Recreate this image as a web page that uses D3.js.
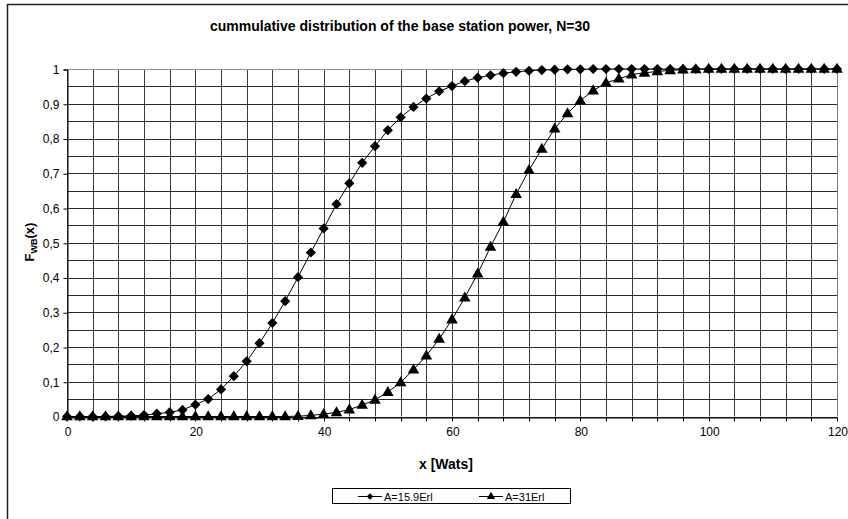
<!DOCTYPE html>
<html>
<head>
<meta charset="utf-8">
<script src="https://cdn.jsdelivr.net/npm/d3@7"></script>
<style>
  html, body { margin: 0; padding: 0; background: #fff; }
  svg { display: block; font-family: Arial, "Liberation Sans", sans-serif; }
</style>
</head>
<body>
<svg id="chart" width="848" height="519"></svg>
<script>
// ---- data ----
const xValues = [0,2,4,6,8,10,12,14,16,18,20,22,24,26,28,30,32,34,36,38,40,42,44,46,48,50,52,54,56,58,60,62,64,66,68,70,72,74,76,78,80,82,84,86,88,90,92,94,96,98,100,102,104,106,108,110,112,114,116,118,120];
const seriesA159 = [0,0,0,0,0.001,0.002,0.004,0.008,0.012,0.019,0.034,0.05,0.078,0.116,0.159,0.211,0.269,0.332,0.401,0.472,0.541,0.611,0.671,0.73,0.778,0.824,0.861,0.891,0.915,0.936,0.951,0.965,0.975,0.982,0.988,0.992,0.995,0.997,0.998,0.999,0.999,1,1,1,1,1,1,1,1,1,1,1,1,1,1,1,1,1,1,1,1];
const seriesA31 = [0,0,0,0,0,0,0,0,0,0,0,0,0,0,0,0,0,0,0.001,0.003,0.007,0.012,0.02,0.033,0.048,0.07,0.098,0.135,0.175,0.223,0.279,0.342,0.411,0.488,0.56,0.64,0.709,0.77,0.828,0.872,0.909,0.938,0.96,0.972,0.984,0.989,0.993,0.996,0.998,0.999,1,1,1,1,1,1,1,1,1,1,1];
const seriesNames = ["A=15.9Erl", "A=31Erl"];
const xTickLabels = [0,20,40,60,80,100,120];
const yTickLabels = [0,0.1,0.2,0.3,0.4,0.5,0.6,0.7,0.8,0.9,1];
const xGrid = [0,4,8,12,16,20,24,28,32,36,40,44,48,52,56,60,64,68,72,76,80,84,88,92,96,100,104,108,112,116,120];
const yGrid = [0,0.05,0.1,0.15,0.2,0.25,0.3,0.35,0.4,0.45,0.5,0.55,0.6,0.65,0.7,0.75,0.8,0.85,0.9,0.95,1];
const titleText = "cummulative distribution of the base station power, N=30";
const xLabel = "x [Wats]";

// ---- layout ----
const svg = d3.select("#chart");
const mLeft = 67, mRight = 837, mTop = 69, mBottom = 416.5;
const x = d3.scaleLinear().domain([0,120]).range([mLeft, mRight]);
const y = d3.scaleLinear().domain([0,1]).range([mBottom, mTop]);
const FONT = "Arial, 'Liberation Sans', sans-serif";

// outer border
svg.append("rect").attr("x", 7.5).attr("y", 4.5).attr("width", 900).attr("height", 600)
  .attr("fill", "#fff").attr("stroke", "#222").attr("stroke-width", 1.5);

// title
svg.append("text").attr("x", 400).attr("y", 31).attr("text-anchor", "middle")
  .attr("font-size", 14).attr("font-weight", "bold").text(titleText);

// grid
const g = svg.append("g");
g.selectAll(".vg").data(xGrid).join("line")
  .attr("x1", d => Math.round(x(d)) + 0.5).attr("x2", d => Math.round(x(d)) + 0.5)
  .attr("y1", y(1)).attr("y2", y(0))
  .attr("stroke", d => (d === 120 ? "#808080" : "#3a3a3a")).attr("stroke-width", 1);
g.selectAll(".hg").data(yGrid).join("line")
  .attr("y1", d => Math.round(y(d)) + 0.5).attr("y2", d => Math.round(y(d)) + 0.5)
  .attr("x1", x(0)).attr("x2", x(120))
  .attr("stroke", d => (d === 1 ? "#909090" : "#2a2a2a")).attr("stroke-width", 1);

// axes
const yAxis = d3.axisLeft(y).tickValues(yTickLabels).tickSize(4).tickPadding(4)
  .tickFormat(d => (d === 0 || d === 1) ? String(d) : d3.format(".1f")(d).replace(".", ","));
const ya = svg.append("g").attr("transform", `translate(${mLeft + 0.5},0.5)`).call(yAxis);
ya.selectAll("text").attr("font-size", 12).attr("font-family", FONT).attr("fill", "#000");
ya.selectAll("line,path").attr("stroke", "#000");

const xAxis = d3.axisBottom(x).tickValues(xTickLabels).tickSize(0).tickPadding(10).tickFormat(d => String(d));
const xa = svg.append("g").attr("transform", `translate(0.5,${Math.round(y(0)) + 0.5})`).call(xAxis);
xa.selectAll("text").attr("font-size", 12).attr("font-family", FONT).attr("fill", "#000");
xa.select("path").attr("stroke", "#000");
xa.selectAll(".tk").data(xGrid).join("line").attr("class", "tk")
  .attr("x1", d => Math.round(x(d))).attr("x2", d => Math.round(x(d)))
  .attr("y1", 0).attr("y2", 4).attr("stroke", "#000");

// axis labels
svg.append("text").attr("x", 446).attr("y", 469).attr("text-anchor", "middle")
  .attr("font-size", 14).attr("font-weight", "bold").text(xLabel);
const yl = svg.append("text").attr("transform", "translate(34,242) rotate(-90)")
  .attr("text-anchor", "middle").attr("font-size", 13).attr("font-weight", "bold");
yl.append("tspan").text("F");
yl.append("tspan").attr("font-size", 9).attr("dy", 3).text("WB");
yl.append("tspan").attr("dy", -3).text("(x)");

// series
const diamond = d3.symbol().type(d3.symbolSquare).size(52);
const triangle = d3.symbol().type(d3.symbolTriangle).size(58);
const line = d3.line().x(d => x(d[0])).y(d => y(d[1]));
const dataA = xValues.map((v,i) => [v, seriesA159[i]]);
const dataB = xValues.map((v,i) => [v, seriesA31[i]]);

svg.append("path").datum(dataA).attr("d", line).attr("fill", "none").attr("stroke", "#000").attr("stroke-width", 1);
svg.append("path").datum(dataB).attr("d", line).attr("fill", "none").attr("stroke", "#000").attr("stroke-width", 1);

svg.append("g").selectAll("path").data(dataA).join("path")
  .attr("d", diamond).attr("transform", d => `translate(${x(d[0])},${y(d[1])}) rotate(45)`).attr("fill", "#000");
svg.append("g").selectAll("path").data(dataB).join("path")
  .attr("d", triangle).attr("transform", d => `translate(${x(d[0])},${y(d[1]) + 0.5})`).attr("fill", "#000");

// legend
const lg = svg.append("g");
lg.append("rect").attr("x", 332.5).attr("y", 488.5).attr("width", 238).attr("height", 15)
  .attr("fill", "#fff").attr("stroke", "#000").attr("stroke-width", 1);
const legendItems = [
  {name: seriesNames[0], x0: 358, sym: "d"},
  {name: seriesNames[1], x0: 479, sym: "t"}
];
legendItems.forEach(it => {
  lg.append("line").attr("x1", it.x0).attr("x2", it.x0 + 24).attr("y1", 496.5).attr("y2", 496.5)
    .attr("stroke", "#000").attr("stroke-width", 1);
  if (it.sym === "d") {
    lg.append("path").attr("d", d3.symbol().type(d3.symbolSquare).size(22)())
      .attr("transform", `translate(${it.x0 + 12},496.5) rotate(45)`).attr("fill", "#000");
  } else {
    lg.append("path").attr("d", d3.symbol().type(d3.symbolTriangle).size(30)())
      .attr("transform", `translate(${it.x0 + 12},496.5)`).attr("fill", "#000");
  }
  lg.append("text").attr("x", it.x0 + 26).attr("y", 500.5).attr("font-size", 11).attr("font-family", FONT).text(it.name);
});
</script>
</body>
</html>
